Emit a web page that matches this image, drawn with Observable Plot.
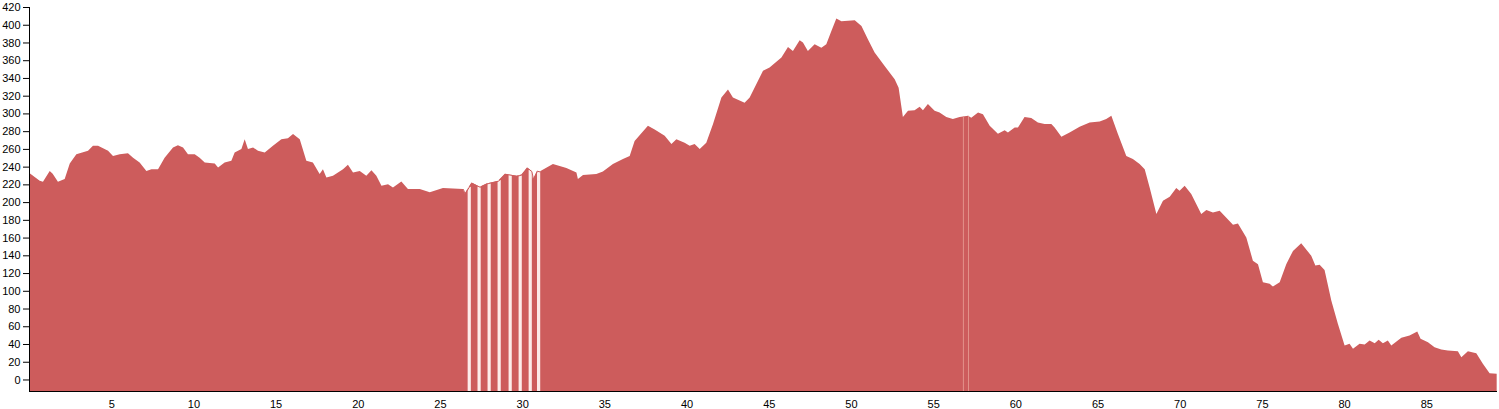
<!DOCTYPE html>
<html>
<head>
<meta charset="utf-8">
<script src="https://cdn.jsdelivr.net/npm/d3@7"></script>
<script src="https://cdn.jsdelivr.net/npm/@observablehq/plot@0.6"></script>
<style>
  html, body { margin: 0; padding: 0; background: #fff; }
  #chart svg { display: block; }
</style>
</head>
<body>
<div id="chart"></div>
<script>
// Distance along route (km)
const km = [
  0, 0.65, 0.85, 1.26, 1.44, 1.76, 2.17, 2.48, 2.88, 3.59, 3.89, 4.2, 4.81, 5.11, 5.52, 6.02, 6.33, 6.73, 7.14, 7.45,
  7.85, 8.25, 8.76, 9.06, 9.37, 9.67, 10.08, 10.38, 10.69, 11.3, 11.5, 11.9, 12.31, 12.51, 12.92, 13.12, 13.32, 13.63, 13.93, 14.34,
  14.84, 15.35, 15.75, 16.06, 16.47, 16.87, 17.27, 17.68, 17.88, 18.09, 18.49, 19.1, 19.4, 19.71, 20.12, 20.52, 20.83, 21.13, 21.44, 21.84,
  22.14, 22.65, 23.05, 23.77, 24.38, 25.18, 26.4, 26.5, 26.91, 27.41, 27.82, 28.53, 28.94, 29.65, 29.95, 30.29, 30.56, 30.66, 30.9, 31.06,
  31.87, 32.69, 33.3, 33.39, 33.7, 34.51, 34.91, 35.52, 36.13, 36.54, 36.84, 37.65, 38.06, 38.67, 39.08, 39.38, 39.88, 40.19, 40.49, 40.8,
  41.2, 41.61, 42.12, 42.52, 42.82, 43.53, 43.84, 44.65, 45.05, 45.77, 46.17, 46.47, 46.88, 47.08, 47.38, 47.79, 48.2, 48.5, 48.81, 49.11,
  49.42, 50.23, 50.64, 51.03, 51.44, 52.05, 52.66, 52.9, 53.16, 53.47, 53.87, 54.18, 54.38, 54.68, 55.09, 55.39, 55.8, 56.2, 56.61, 57.12,
  57.32, 57.73, 58.03, 58.44, 58.94, 59.35, 59.55, 59.96, 60.16, 60.56, 60.97, 61.37, 61.78, 62.19, 62.39, 62.8, 63.3, 63.91, 64.52, 65.13,
  65.53, 65.84, 66.24, 66.75, 67.15, 67.56, 67.87, 68.17, 68.58, 68.98, 69.39, 69.79, 69.99, 70.3, 70.7, 71.31, 71.62, 72.02, 72.43, 73.24,
  73.54, 74.05, 74.45, 74.76, 75.06, 75.47, 75.67, 76.08, 76.48, 76.89, 77.39, 78.0, 78.25, 78.51, 78.81, 79.22, 79.62, 80.03, 80.33, 80.54,
  80.94, 81.25, 81.55, 81.86, 82.1, 82.36, 82.66, 82.87, 83.48, 83.98, 84.45, 84.65, 85.1, 85.5, 85.91, 86.31, 86.92, 87.13, 87.53, 88.04,
  88.44, 88.85, 89.28
];
// Elevation (m)
const elevation = [
  233, 224, 223, 235, 232, 223, 226, 243.6, 254, 258, 263.5, 263.5, 258, 252, 254, 255, 250, 244.7, 235, 237,
  237, 250, 261.6, 264, 261.6, 254, 254, 250, 244.7, 243.6, 239, 244.7, 246.6, 256, 259.8, 271, 260, 261.6, 258, 256,
  263.5, 271, 272, 276.7, 271, 246.6, 244.7, 231.6, 237, 227.8, 229.7, 237, 242, 233.4, 235, 229.7, 236, 229.7, 218.5, 220,
  216.6, 223.3, 214.7, 214.7, 211, 215.9, 214.7, 209.8, 222, 217.3, 221, 224, 232, 229.7, 231, 239, 235, 226, 235.4, 234.6,
  243, 238.4, 233.4, 226, 230.5, 231.6, 234.6, 242.9, 248.5, 252, 269, 286, 282, 274.8, 265.4, 271, 267, 263.5, 265.4, 259.8,
  267, 288, 318, 327, 318, 312, 318, 348, 351.7, 363, 375, 370.5, 382.5, 380, 370.5, 378, 374, 378, 393, 407,
  404, 405, 398.6, 383.7, 368.6, 353.6, 338.6, 329, 296, 303, 303.7, 307.4, 303.7, 310.5, 303, 301, 296, 293.6, 296, 297.3,
  295, 301, 299, 286, 277, 281, 278.5, 284, 284, 296, 294.7, 289.8, 288, 288, 284, 273.6, 278.5, 285, 289.8, 291,
  293.6, 297.3, 276.7, 252, 248.5, 243, 237, 216.6, 186.6, 201.6, 206, 216, 212.8, 218.5, 209, 186.6, 191, 188.4, 190.3, 174.5,
  176, 160, 134, 130, 109.6, 107.8, 104.7, 109.6, 130, 145, 153.5, 139.6, 128.4, 129.5, 123.5, 89, 62.7, 38.3, 40.2, 34.6,
  40.2, 39.4, 43.9, 40.9, 44.7, 40.9, 43.9, 38.3, 47, 49.5, 54, 45.8, 42, 36.4, 33.8, 32.7, 31.9, 25.1, 31.9, 29.6,
  17.7, 7.1, 6.4
];
// Stretches with missing samples (km)
const gapsMajor = [26.75, 27.35, 27.96, 28.57, 29.24, 29.85, 30.46, 30.97];
const gapsMinor = [56.81, 57.12];
// Axis ticks
const yTicks = d3.range(0, 421, 20);
const xTicks = d3.range(5, 86, 5);
const xDomain = [0, 89.3];
const yDomain = [-13, 420];

const data = km.map((k, i) => ({km: k, elev: elevation[i]}));
const elevAt = (k) => {
  const i = d3.bisectLeft(km, k);
  if (i <= 0) return elevation[0];
  if (i >= km.length) return elevation[km.length - 1];
  const t = (k - km[i - 1]) / (km[i] - km[i - 1]);
  return elevation[i - 1] + t * (elevation[i] - elevation[i - 1]);
};

const fill = "indianred";
const chart = Plot.plot({
  width: 1499,
  height: 409,
  marginLeft: 29,
  marginRight: 2,
  marginTop: 7,
  marginBottom: 18,
  style: {fontFamily: "'Liberation Sans', Arial, sans-serif", fontSize: "11px", background: "#fff", color: "#000"},
  x: {domain: xDomain, label: null},
  y: {domain: yDomain, label: null},
  marks: [
    Plot.areaY(data, {x: "km", y1: yDomain[0], y2: "elev", fill, curve: "linear"}),
    Plot.ruleX(gapsMajor, {x: d => d, y1: yDomain[0], y2: d => elevAt(d), stroke: "#fdecea", strokeWidth: 3.2}),
    Plot.ruleX(gapsMinor, {x: d => d, y1: yDomain[0], y2: d => elevAt(d), stroke: "#e3928a", strokeWidth: 1}),
    Plot.line(data.filter(d => d.km >= 26.3 && d.km <= 31.2), {x: "km", y: "elev", stroke: fill, strokeWidth: 1}),
    Plot.axisY({ticks: yTicks, tickSize: 6, tickPadding: 3, label: null}),
    Plot.axisX({ticks: xTicks, tickSize: 0, tickPadding: 9, label: null}),
    Plot.ruleX([xDomain[0]], {stroke: "#000"}),
    Plot.ruleY([yDomain[0]], {stroke: "#000"})
  ]
});
document.getElementById("chart").appendChild(chart);
</script>
</body>
</html>
